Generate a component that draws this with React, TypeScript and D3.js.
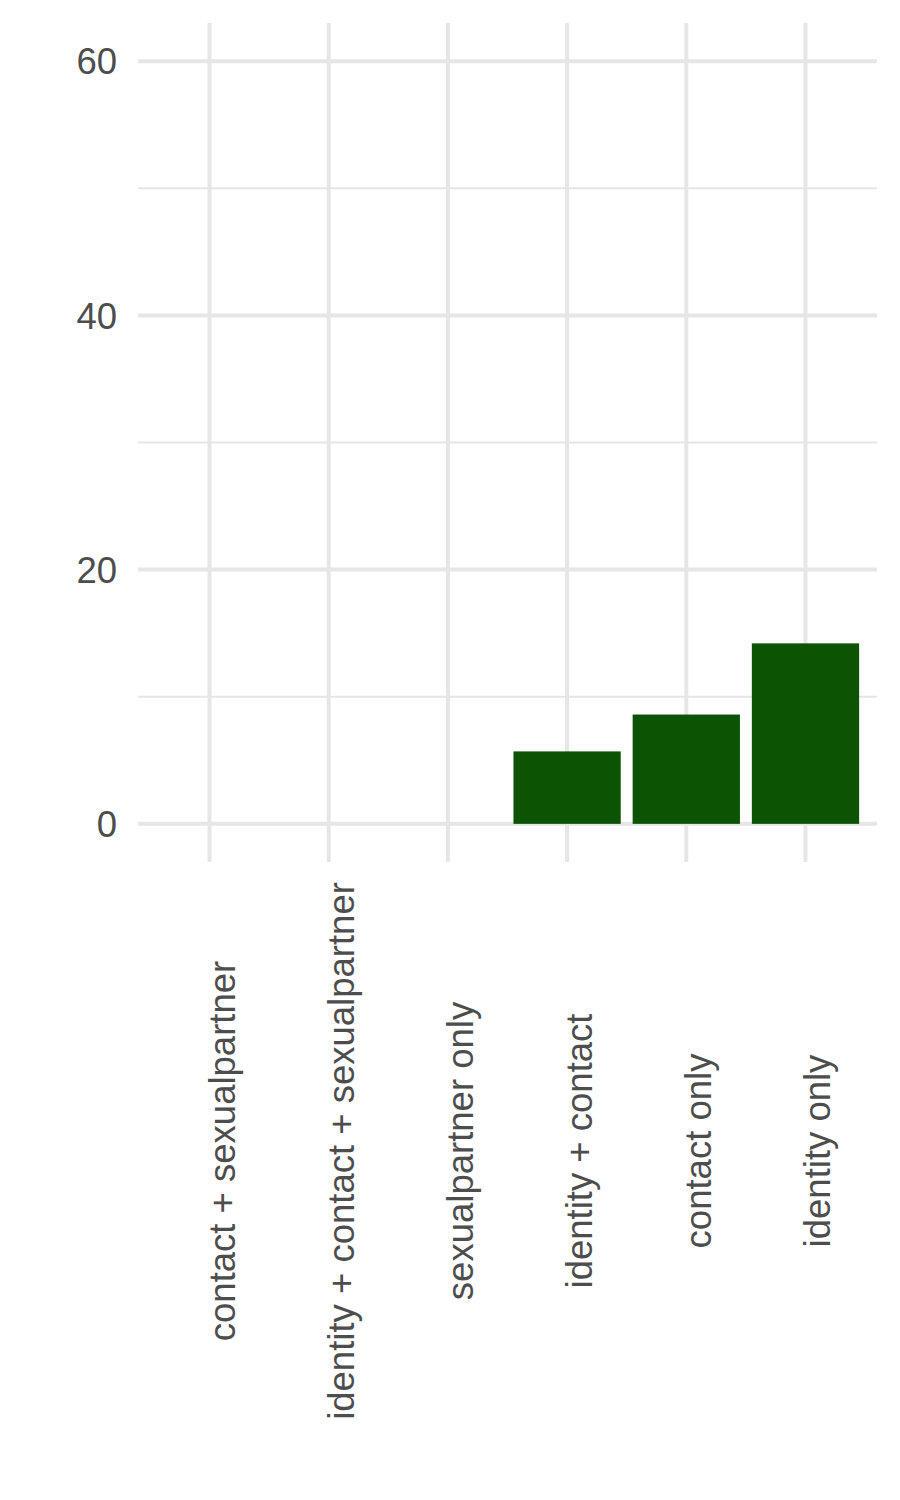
import { useEffect, useRef } from "react"
import * as d3 from "d3"

const categories = [
  "contact + sexualpartner",
  "identity + contact + sexualpartner",
  "sexualpartner only",
  "identity + contact",
  "contact only",
  "identity only",
]
const counts = [0, 0, 0, 5.7, 8.6, 14.2]
const majorTicks = [0, 20, 40, 60]
const minorTicks = [10, 30, 50]

export default function App() {
  const ref = useRef<SVGSVGElement>(null)

  useEffect(() => {
    const svg = d3.select(ref.current)
    svg.selectAll("*").remove()

    const W = 900, H = 1500
    const left = 138, right = 877, top = 23, bottom = 862
    const grid = "#e6e6e6"
    const textCol = "#4d4d4d"
    const font = "'Liberation Sans', Arial, sans-serif"

    const y = d3.scaleLinear().domain([-3, 63]).range([bottom, top])
    // discrete axis, 0.6 of a step padding each side like ggplot
    const step = (right - left) / (categories.length - 1 + 1.2)
    const x = d3.scalePoint<string>()
      .domain(categories)
      .range([left + 0.6 * step, right - 0.6 * step])
    const barW = step * 0.9

    svg.attr("width", W).attr("height", H)

    // minor gridlines
    svg.append("g").selectAll("line").data(minorTicks).join("line")
      .attr("x1", left).attr("x2", right)
      .attr("y1", d => y(d)).attr("y2", d => y(d))
      .attr("stroke", grid).attr("stroke-width", 2)

    // major gridlines
    svg.append("g").selectAll("line").data(majorTicks).join("line")
      .attr("x1", left).attr("x2", right)
      .attr("y1", d => y(d)).attr("y2", d => y(d))
      .attr("stroke", grid).attr("stroke-width", 4)

    svg.append("g").selectAll("line").data(categories).join("line")
      .attr("x1", d => x(d)!).attr("x2", d => x(d)!)
      .attr("y1", top).attr("y2", bottom)
      .attr("stroke", grid).attr("stroke-width", 4)

    // bars
    svg.append("g").selectAll("rect").data(categories.map((c, i) => ({ c, v: counts[i] })))
      .join("rect")
      .attr("x", d => x(d.c)! - barW / 2)
      .attr("width", barW)
      .attr("y", d => y(d.v))
      .attr("height", d => y(0) - y(d.v))
      .attr("fill", "#0c5303")

    // y labels
    svg.append("g").selectAll("text").data(majorTicks).join("text")
      .attr("x", 117).attr("y", d => y(d))
      .attr("dy", "0.36em")
      .attr("text-anchor", "end")
      .attr("font-family", font).attr("font-size", 36.5)
      .attr("fill", textCol)
      .text(d => d)

    // x labels, rotated
    svg.append("g").selectAll("text").data(categories).join("text")
      .attr("transform", d => `translate(${x(d)! + 25},1151) rotate(-90)`)
      .attr("text-anchor", "middle")
      .attr("font-family", font).attr("font-size", 36.5)
      .attr("fill", textCol)
      .text(d => d)
  }, [])

  return (
    <svg ref={ref} style={{ position: "absolute", left: 0, top: 0, background: "#fff" }} />
  )
}
